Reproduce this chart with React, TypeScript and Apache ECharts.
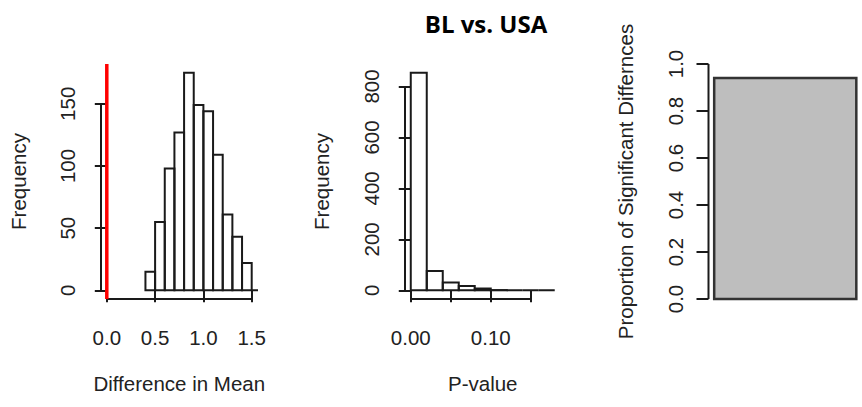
import React, { useEffect, useRef } from "react";
import * as echarts from "echarts";

// ---- data ----
const diffBreaks = [0.4, 0.5, 0.6, 0.7, 0.8, 0.9, 1.0, 1.1, 1.2, 1.3, 1.4, 1.5, 1.6];
const diffCounts = [15, 55, 98, 127, 175, 149, 144, 109, 61, 43, 22, 0];
const diffXTicks = [0, 0.5, 1.0, 1.5];
const diffYTicks = [0, 50, 100, 150];
const diffXlim = [0, 1.5];
const refLineX = [0];

const pBreaks = [0, 0.02, 0.04, 0.06, 0.08, 0.1, 0.12, 0.14, 0.16, 0.18];
const pCounts = [854, 76, 31, 17, 7, 1, 0, 0, 0];
const pXTicks = [0, 0.05, 0.1, 0.15];
const pXLabels = [0, 0.1];
const pYTicks = [0, 200, 400, 600, 800];

const propBarEdges = [0.2, 1.2];
const propValues = [0.94];
const propYTicks = [0, 0.2, 0.4, 0.6, 0.8, 1.0];

const title = "BL vs. USA";

// ---- styling ----
const FONT = "'Liberation Sans', Arial, sans-serif";
const TXT = "#222";
const LINE = "#1a1a1a";
const FS = 20.5;

const pad = (lo: number, hi: number) => [lo - 0.04 * (hi - lo), hi + 0.04 * (hi - lo)];

function histData(breaks: number[], counts: number[]) {
  return counts.map((c, i) => [breaks[i], breaks[i + 1], c]);
}

const histRender = (fill: string, stroke: string, lw: number) => (params: any, api: any) => {
  const x0 = api.value(0), x1 = api.value(1), c = api.value(2);
  const a = api.coord([x0, 0]);
  const b = api.coord([x1, c]);
  return {
    type: "polygon",
    shape: { points: [[a[0], a[1]], [a[0], b[1]], [b[0], b[1]], [b[0], a[1]]] },
    style: { fill, stroke, lineWidth: lw },
  };
};

const lineRender = (stroke: string, lw: number) => (params: any, api: any) => {
  const a = api.coord([api.value(0), api.value(1)]);
  const b = api.coord([api.value(2), api.value(3)]);
  return {
    type: "line",
    shape: { x1: a[0], y1: a[1], x2: b[0], y2: b[1] },
    style: { stroke, lineWidth: lw, lineCap: "butt" },
  };
};

function valueAxis(opts: any) {
  const { gridIndex, min, max, ticks, labels, fmt, name, nameGap, rotate, margin, show = true } = opts;
  return {
    type: "value",
    gridIndex,
    min,
    max,
    show,
    splitLine: { show: false },
    axisLine: { show: false },
    axisTick: {
      show: true,
      customValues: ticks,
      length: 12,
      lineStyle: { color: LINE, width: 2 },
    },
    axisLabel: {
      show: true,
      customValues: labels ?? ticks,
      formatter: fmt,
      rotate: rotate ?? 0,
      margin,
      fontSize: FS,
      lineHeight: FS,
      fontFamily: FONT,
      color: TXT,
      hideOverlap: false,
    },
    name,
    nameLocation: "middle",
    nameGap,
    nameTextStyle: { fontSize: FS, lineHeight: FS, fontFamily: FONT, color: TXT },
  };
}

export default function App() {
  const ref = useRef<HTMLDivElement>(null);

  useEffect(() => {
    if (!ref.current) return;
    const chart = echarts.init(ref.current, null, { renderer: "svg" });

    const maxDiff = Math.max(...diffCounts);
    const maxP = Math.max(...pCounts);
    const dX = pad(diffXlim[0], diffXlim[1]);
    const dY = pad(0, maxDiff);
    const pX = pad(pBreaks[0], pBreaks[pBreaks.length - 1]);
    const pY = pad(0, maxP);
    const rX = pad(propBarEdges[0], propBarEdges[1]);
    const rY = [0, 1];

    const option: any = {
      animation: false,
      backgroundColor: "#fff",
      grid: [
        { left: 101, top: 64, width: 156.5, height: 235 },
        { left: 405, top: 64, width: 155.5, height: 235 },
        { left: 708.5, top: 64, width: 155.5, height: 235 },
      ],
      xAxis: [
        valueAxis({
          gridIndex: 0, min: dX[0], max: dX[1], ticks: diffXTicks,
          fmt: (v: number) => v.toFixed(1), name: "Difference in Mean", nameGap: 74, margin: 28,
        }),
        valueAxis({
          gridIndex: 1, min: pX[0], max: pX[1], ticks: pXTicks, labels: pXLabels,
          fmt: (v: number) => v.toFixed(2), name: "P-value", nameGap: 74, margin: 28,
        }),
        { type: "value", gridIndex: 2, min: rX[0], max: rX[1], show: false, splitLine: { show: false } },
      ],
      yAxis: [
        valueAxis({
          gridIndex: 0, min: dY[0], max: dY[1], ticks: diffYTicks,
          fmt: (v: number) => String(v), name: "Frequency", nameGap: 72, rotate: 90, margin: 23,
        }),
        valueAxis({
          gridIndex: 1, min: pY[0], max: pY[1], ticks: pYTicks,
          fmt: (v: number) => String(v), name: "Frequency", nameGap: 73, rotate: 90, margin: 23,
        }),
        valueAxis({
          gridIndex: 2, min: rY[0], max: rY[1], ticks: propYTicks,
          fmt: (v: number) => v.toFixed(1), name: "Proportion of Significant Differnces", nameGap: 73, rotate: 90, margin: 23,
        }),
      ],
      graphic: [
        {
          type: "text",
          x: 486,
          y: 23,
          style: {
            text: title,
            font: "bold 24px 'Open Sans', sans-serif",
            fill: "#000",
            textAlign: "center",
            textVerticalAlign: "middle",
          },
        },
      ],
      series: [
        {
          type: "custom", xAxisIndex: 0, yAxisIndex: 0, clip: true,
          renderItem: histRender("none", LINE, 2),
          data: histData(diffBreaks, diffCounts),
        },
        {
          type: "custom", xAxisIndex: 0, yAxisIndex: 0, clip: false,
          renderItem: lineRender(LINE, 2),
          data: [
            [dX[0], diffYTicks[0], dX[0], diffYTicks[diffYTicks.length - 1]],
            [diffXTicks[0], dY[0], diffXTicks[diffXTicks.length - 1], dY[0]],
          ],
        },
        {
          type: "custom", xAxisIndex: 0, yAxisIndex: 0, clip: true,
          renderItem: lineRender("#ff0000", 3.5),
          data: refLineX.map((x) => [x, dY[0], x, dY[1]]),
        },
        {
          type: "custom", xAxisIndex: 1, yAxisIndex: 1, clip: true,
          renderItem: histRender("none", LINE, 2),
          data: histData(pBreaks, pCounts),
        },
        {
          type: "custom", xAxisIndex: 1, yAxisIndex: 1, clip: false,
          renderItem: lineRender(LINE, 2),
          data: [
            [pX[0], pYTicks[0], pX[0], pYTicks[pYTicks.length - 1]],
            [pXTicks[0], pY[0], pXTicks[pXTicks.length - 1], pY[0]],
          ],
        },
        {
          type: "custom", xAxisIndex: 2, yAxisIndex: 2, clip: false,
          renderItem: histRender("#bebebe", "#333", 2.5),
          data: propValues.map((v) => [propBarEdges[0], propBarEdges[1], v]),
        },
        {
          type: "custom", xAxisIndex: 2, yAxisIndex: 2, clip: false,
          renderItem: lineRender(LINE, 2),
          data: [[rX[0], propYTicks[0], rX[0], propYTicks[propYTicks.length - 1]]],
        },
      ],
    };

    chart.setOption(option);
    return () => chart.dispose();
  }, []);

  return (
    <div
      ref={ref}
      style={{ position: "fixed", left: 0, top: 0, width: 862, height: 407, background: "#fff" }}
    />
  );
}
